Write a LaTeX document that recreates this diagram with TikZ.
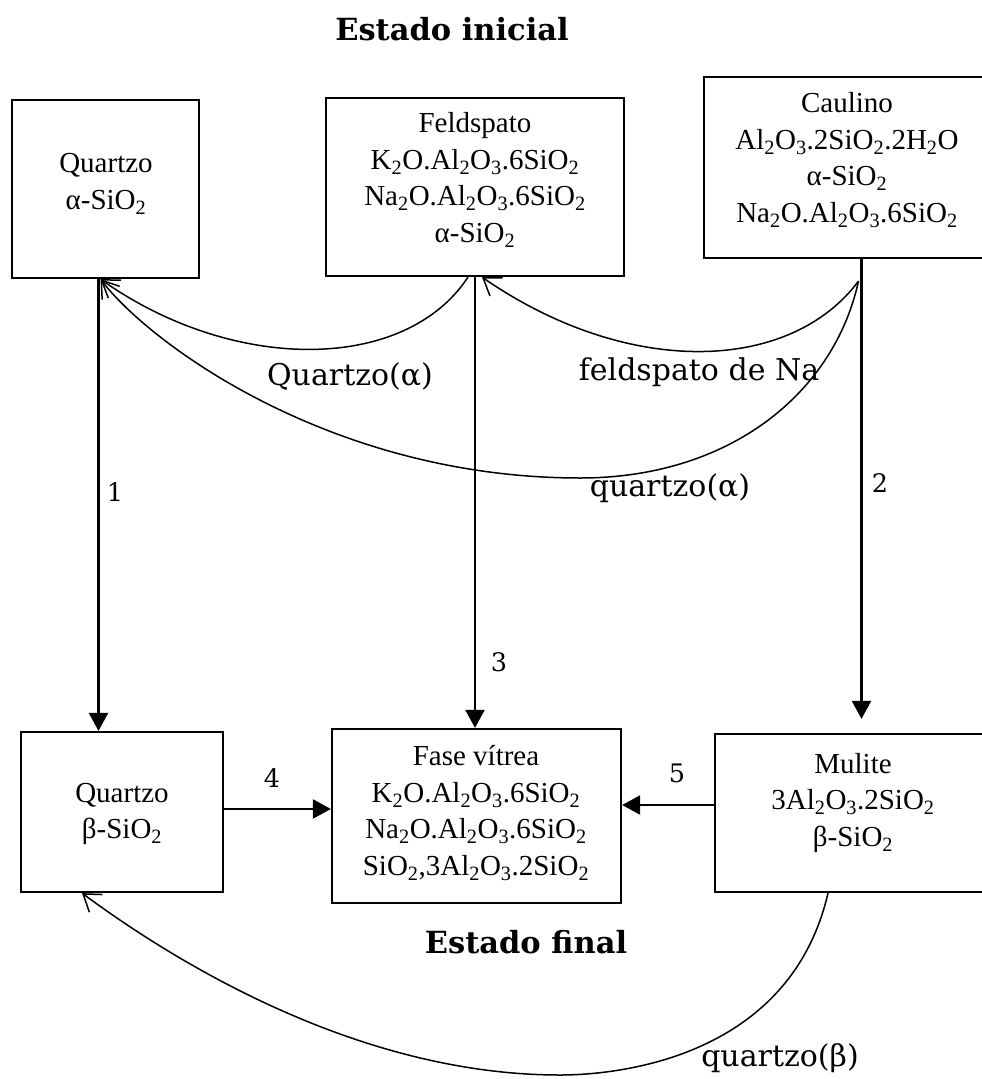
\documentclass[tikz,border=0pt]{standalone}
\usepackage{fontspec}
\setmainfont{Liberation Serif}
\newfontfamily\lblfont{DejaVu Serif}
\usetikzlibrary{arrows.meta,calc}
\newcommand\ssub[1]{\textsubscript{#1}}
\begin{document}
\begin{tikzpicture}[x=1pt,y=-1pt,
  box/.style={draw, line width=2.2pt, inner sep=0pt},
  btext/.style={align=center, inner sep=0pt, font=\fontsize{29}{36.5}\selectfont},
  lbl/.style={inner sep=0pt, font=\lblfont\fontsize{30}{36}\selectfont},
  num/.style={inner sep=0pt, font=\lblfont\fontsize{25.5}{30}\selectfont},
  ttl/.style={inner sep=0pt, font=\lblfont\bfseries\fontsize{30.5}{36}\selectfont},
  flow/.style={line width=2.2pt, -{Triangle[length=18pt,width=19pt]}},
  curvearr/.style={line width=1.5pt, -{Straight Barb[length=16pt,width=22pt]}}]
\useasboundingbox (0,0) rectangle (982,1079);
\clip (0,0) rectangle (982,1079);

% boxes
\node[box, minimum width=187pt, minimum height=178pt] (qa) at (105.5,189) {};
\node[box, minimum width=298pt, minimum height=178pt] (fe) at (475,187) {};
\node[box, minimum width=291pt, minimum height=181pt] (ca) at (849.5,167.5) {};
\node[box, minimum width=202pt, minimum height=160pt] (qb) at (122,812) {};
\node[box, minimum width=289pt, minimum height=174pt] (fv) at (476.5,816) {};
\node[box, minimum width=280pt, minimum height=158pt] (mu) at (855,813) {};

% box texts
\node[btext] (qat) at (106,184) {Quartzo\\α-SiO\ssub{2}};
\node[btext] (fet) at (475,180) {Feldspato\\K\ssub{2}O.Al\ssub{2}O\ssub{3}.6SiO\ssub{2}\\Na\ssub{2}O.Al\ssub{2}O\ssub{3}.6SiO\ssub{2}\\α-SiO\ssub{2}};
\node[btext] (cat) at (847,160) {Caulino\\Al\ssub{2}O\ssub{3}.2SiO\ssub{2}.2H\ssub{2}O\\α-SiO\ssub{2}\\Na\ssub{2}O.Al\ssub{2}O\ssub{3}.6SiO\ssub{2}};
\node[btext] (qbt) at (122,814) {Quartzo\\β-SiO\ssub{2}};
\node[btext] (fvt) at (476,813) {Fase vítrea\\K\ssub{2}O.Al\ssub{2}O\ssub{3}.6SiO\ssub{2}\\Na\ssub{2}O.Al\ssub{2}O\ssub{3}.6SiO\ssub{2}\\SiO\ssub{2},3Al\ssub{2}O\ssub{3}.2SiO\ssub{2}};
\node[btext] (mut) at (853,803) {Mulite\\3Al\ssub{2}O\ssub{3}.2SiO\ssub{2}\\β-SiO\ssub{2}};

% straight arrows
\coordinate (a1) at ($(qa.south)+(-7,0)$);
\draw[flow] (a1) -- (a1 |- qb.north);
\draw[flow] (fe.south) -- (fe.south |- fv.north);
\coordinate (a2) at ($(ca.south)+(12,0)$);
\draw[flow, shorten >=14pt] (a2) -- (a2 |- mu.north);
\coordinate (a4) at ($(qb.east)+(0,-3)$);
\draw[flow] (a4) -- (a4 -| fv.west);
\coordinate (a5) at ($(mu.west)+(0,-8)$);
\draw[flow] (a5) -- (a5 -| fv.east);

% curved arrows
\coordinate (cj) at ($(ca.south)+(9,22)$);
\coordinate (fo) at ($(fe.south)+(-7,0)$);
\coordinate (fi) at ($(fe.south)+(7,0)$);
\coordinate (qi) at ($(qa.south)+(-5,0)$);
\coordinate (mo) at ($(mu.south)+(-27,0)$);
\coordinate (qbi) at ($(qb.south)+(-40,0)$);
\draw[curvearr] (fo) .. controls (405,373) and (233,373) .. (qi);
\draw[curvearr] (cj) .. controls (790,373) and (628,378) .. (fi);
\draw[curvearr] (cj) .. controls (834,393) and (730,478) .. (580,478) .. controls (330,478) and (148,342) .. (qi);
\draw[curvearr] (mo) .. controls (790,1057) and (620,1075) .. (560,1075) .. controls (360,1075) and (178,964) .. (qbi);

% labels
\node[lbl] (l1) at (350,377) {Quartzo(α)};
\node[lbl] (l2) at (699,372) {feldspato de Na};
\node[lbl] (l3) at (670,488) {quartzo(α)};
\node[lbl] (l4) at (780,1058) {quartzo(β)};
\node[num] (n1) at (115,492) {1};
\node[num] (n2) at (880,483) {2};
\node[num] (n3) at (499,662) {3};
\node[num] (n4) at (272,778) {4};
\node[num] (n5) at (677,773) {5};
\node[ttl] (t1) at (452,29) {Estado inicial};
\node[ttl] (t2) at (526,942) {Estado final};
\end{tikzpicture}
\end{document}
